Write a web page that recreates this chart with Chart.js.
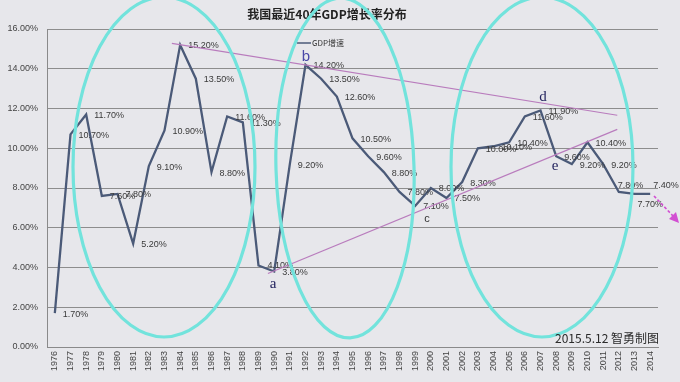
<!DOCTYPE html>
<html><head><meta charset="utf-8">
<script src="https://cdn.jsdelivr.net/npm/chart.js@4/dist/chart.umd.min.js"></script>
<style>html,body{margin:0;padding:0;background:#e7e7eb;}canvas{display:block;}</style>
</head><body>
<canvas id="c" width="680" height="382"></canvas>
<script>
const years = ['1976','1977','1978','1979','1980','1981','1982','1983','1984','1985','1986','1987','1988','1989','1990','1991','1992','1993','1994','1995','1996','1997','1998','1999','2000','2001','2002','2003','2004','2005','2006','2007','2008','2009','2010','2011','2012','2013','2014'];
const growth = [1.7,10.7,11.7,7.6,7.7,5.2,9.1,10.9,15.2,13.5,8.8,11.6,11.3,4.1,3.8,9.2,14.2,13.5,12.6,10.5,9.6,8.8,7.8,7.1,8.0,7.5,8.3,10.0,10.1,10.3,11.6,11.9,9.6,9.2,10.3,9.2,7.8,7.7,7.7];
const pointLabels = ['1.70%','10.70%','11.70%','7.60%','7.80%','5.20%','9.10%','10.90%','15.20%','13.50%','8.80%','11.60%','11.30%','4.10%','3.80%','9.20%','14.20%','13.50%','12.60%','10.50%','9.60%','8.80%','7.80%','7.10%','8.00%','7.50%','8.30%','10.00%','10.10%','10.40%','11.60%','11.90%','9.60%','9.20%','10.40%','9.20%','7.80%','7.70%','7.40%'];
const yTickValues = [0,2,4,6,8,10,12,14,16];
const titleText = '我国最近40年GDP增长率分布';
const seriesName = 'GDP增速';
const creditText = '2015.5.12 智勇制图';

// label placement tweaks (pixels) for a few crowded labels
const labelShift = {'2012':[-1,-6],'2013':[3,11],'2014':[3,-8],'1989':[9,0]};

const decorPlugin = {
  id:'decor',
  beforeDraw(chart){
    const c = chart.ctx; c.save();
    c.fillStyle = '#e7e7eb'; c.fillRect(0,0,chart.width,chart.height);
    c.restore();
  },
  afterDatasetsDraw(chart){
    const c = chart.ctx, meta = chart.getDatasetMeta(0);
    c.save();
    c.font = '9px "Liberation Sans", Arial, sans-serif';
    c.fillStyle = '#3a3a3a'; c.textAlign='left'; c.textBaseline='middle';
    meta.data.forEach((p,i)=>{
      const s = labelShift[years[i]] || [8,1];
      c.fillText(pointLabels[i], p.x + s[0], p.y + s[1]);
    });
    c.restore();
  },
  afterDraw(chart){
    const c = chart.ctx, xs = chart.scales.x, ys = chart.scales.y;
    const X = v => xs.getPixelForValue(v), Y = v => ys.getPixelForValue(v);
    c.save();
    // title
    c.font = 'bold 12px "Noto Sans CJK SC", sans-serif';
    c.fillStyle = '#222'; c.textAlign='center'; c.textBaseline='middle';
    c.fillText(titleText, 327, 14);
    // legend
    c.strokeStyle = '#4b5a78'; c.lineWidth = 1.5;
    c.beginPath(); c.moveTo(297,43); c.lineTo(311,43); c.stroke();
    c.font = '8px "Noto Sans CJK SC", sans-serif'; c.fillStyle='#333'; c.textAlign='left';
    c.fillText(seriesName, 312, 43);
    // trend lines
    c.strokeStyle = '#b97cbd'; c.lineWidth = 1.2;
    c.beginPath(); c.moveTo(X(7.47),Y(15.28)); c.lineTo(X(35.9),Y(11.66)); c.stroke();
    c.beginPath(); c.moveTo(X(13.6),Y(3.7)); c.lineTo(X(35.9),Y(10.95)); c.stroke();
    // ellipses
    c.strokeStyle = '#72e3dc'; c.lineWidth = 3.2;
    [[164,167,91,170,0],[345,168,69,170,-0.03],[542,167,91,170,0]].forEach(e=>{
      c.beginPath(); c.ellipse(e[0],e[1],e[2],e[3],e[4],0,Math.PI*2); c.stroke();
    });
    // letters
    c.textAlign='center'; c.textBaseline='middle';
    c.fillStyle='#23235e'; c.font='15px "Liberation Serif", serif';
    c.fillText('a',273,284); c.fillText('d',543,97); c.fillText('e',555,166);
    c.fillStyle='#4a48a8'; c.font='15px "Liberation Sans", sans-serif';
    c.fillText('b',306,57);
    c.fillStyle='#333'; c.font='11px "Liberation Sans", sans-serif';
    c.fillText('c',427,219);
    // credit
    c.fillStyle='#2a2a2a'; c.font='12px "Noto Sans CJK SC", sans-serif'; c.textAlign='left';
    c.fillText(creditText, 555, 338);
    // dashed arrow
    c.strokeStyle='#d24fd2'; c.lineWidth=1.6; c.setLineDash([3,2]);
    c.beginPath(); c.moveTo(654,196); c.lineTo(674,217); c.stroke();
    c.setLineDash([]); c.fillStyle='#d24fd2';
    c.beginPath(); c.moveTo(679,223); c.lineTo(669,219); c.lineTo(676,212); c.closePath(); c.fill();
    c.restore();
  }
};

new Chart(document.getElementById('c'), {
  type:'line',
  data:{labels:years, datasets:[{label:seriesName, data:growth, borderColor:'#4b5a78', borderWidth:2.3, pointRadius:0, tension:0, fill:false}]},
  options:{
    responsive:false, animation:false, devicePixelRatio:1,
    layout:{padding:{top:29,right:22,left:0,bottom:0}},
    plugins:{legend:{display:false}, title:{display:false}, tooltip:{enabled:false}},
    scales:{
      x:{offset:true,
        grid:{display:true, drawOnChartArea:false, drawTicks:false},
        border:{display:true,color:'#8a8a8a',width:1},
        ticks:{autoSkip:false, maxRotation:90, minRotation:90, padding:4, color:'#444', font:{size:9, family:'"Liberation Sans", Arial, sans-serif'}},
        afterFit(s){s.height=35;}
      },
      y:{min:0,max:16,
        afterBuildTicks(s){s.ticks = yTickValues.map(v=>({value:v}));},
        grid:{color:'#8d8d8d', lineWidth:1, drawTicks:false},
        border:{display:true,color:'#8a8a8a',width:1},
        ticks:{padding:9, color:'#444', font:{size:9, family:'"Liberation Sans", Arial, sans-serif'}, callback:v=>v.toFixed(2)+'%'},
        afterFit(s){s.width=47;}
      }
    }
  },
  plugins:[decorPlugin]
});
</script>
</body></html>
